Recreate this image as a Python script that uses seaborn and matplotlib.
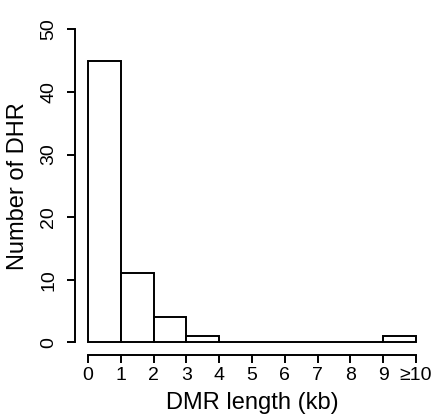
import matplotlib
matplotlib.use("Agg")
import matplotlib.pyplot as plt
import seaborn as sns

bin_edges = [0, 1, 2, 3, 4, 5, 6, 7, 8, 9, 10]
counts = [45, 11, 4, 1, 0, 0, 0, 0, 0, 1]
x_tick_labels = ["0", "1", "2", "3", "4", "5", "6", "7", "8", "9", "≥10"]
y_ticks = [0, 10, 20, 30, 40, 50]
x_label = "DMR length (kb)"
y_label = "Number of DHR"

sns.set_style("ticks")
plt.rcParams['font.family'] = ['Liberation Sans', 'DejaVu Sans']
plt.rcParams['text.color'] = 'black'
plt.rcParams['axes.labelcolor'] = 'black'

fig = plt.figure(figsize=(4.34, 4.19), dpi=100)
ax = fig.add_axes([0.1726, 0.1532, 0.8161, 0.8067])

mids = [(a + b) / 2 for a, b in zip(bin_edges[:-1], bin_edges[1:])]
sns.histplot(x=mids, weights=counts, bins=bin_edges, ax=ax,
             color="white", edgecolor="black", linewidth=1.4, alpha=1)

ax.set_xlim(-0.4, 10.4)
ax.set_ylim(-2, 52)
for s in ["top", "right"]:
    ax.spines[s].set_visible(False)
ax.spines["left"].set_bounds(0, 50)
ax.spines["bottom"].set_bounds(0, 10)
for s in ["left", "bottom"]:
    ax.spines[s].set_linewidth(1.4)
    ax.spines[s].set_color("black")

ax.set_xticks(bin_edges)
ax.set_xticklabels(x_tick_labels)
ax.set_yticks(y_ticks)
ax.set_yticklabels([str(v) for v in y_ticks], rotation=90, va="center")
ax.tick_params(axis="both", length=5.8, width=1.4, color="black",
               labelsize=14, labelcolor="black")
ax.tick_params(axis="y", pad=7)
ax.tick_params(axis="x", pad=3)

ax.set_xlabel(x_label, fontsize=17, labelpad=6, color="black")
ax.set_ylabel(y_label, fontsize=17, labelpad=8, color="black")

fig.savefig("out.png", dpi=100)
